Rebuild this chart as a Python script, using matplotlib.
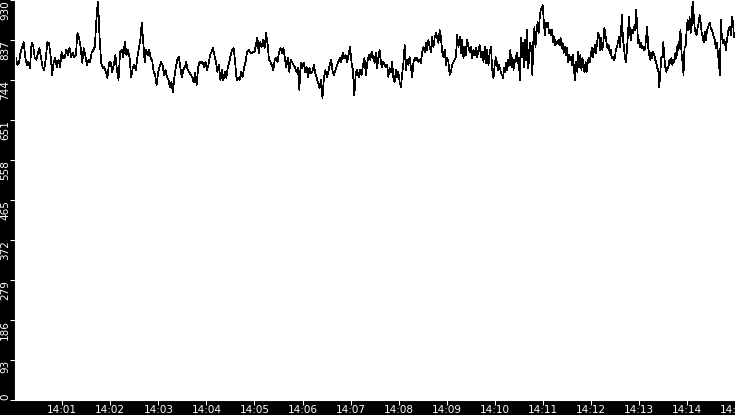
import numpy as np
import matplotlib
matplotlib.use("Agg")
from matplotlib import pyplot as plt
import matplotlib.dates as mdates
from datetime import datetime, timedelta

# readings, one list per 2.5 minute stretch starting at 14:00
seg1 = [786, 795, 779, 784, 807, 821, 832, 797, 779, 786, 772, 830, 825, 795, 791, 807, 818, 795, 774, 767,
        795, 832, 830, 802, 756, 786, 795, 774, 791, 774, 809, 795, 797, 814, 802, 818, 797, 807, 797, 802,
        853, 844, 821, 784, 818, 802, 779, 791, 786, 807, 814, 821, 884, 930, 844, 784, 772, 774, 763, 749,
        784, 786, 763, 779, 802, 767, 744, 809, 814, 797, 832, 802, 814, 795, 751, 772]
seg2 = [779, 767, 795, 818, 837, 877, 830, 786, 814, 802, 814, 795, 791, 763, 756, 732, 760, 774, 786, 779,
        756, 767, 751, 744, 728, 739, 716, 751, 774, 791, 797, 774, 751, 767, 774, 786, 767, 763, 756, 751,
        739, 760, 732, 772, 786, 784, 786, 774, 786, 767, 779, 802, 809, 818, 802, 786, 763, 779, 744, 767,
        744, 763, 749, 772, 786, 802, 814, 818, 784, 744, 749, 744, 763, 751, 772, 786, 809, 814, 809, 807, 809]
seg3 = [809, 825, 842, 807, 832, 821, 837, 818, 853, 830, 791, 786, 779, 767, 791, 795, 786, 809, 818, 807,
        818, 795, 774, 795, 763, 791, 786, 779, 774, 763, 772, 721, 784, 772, 784, 763, 774, 751, 772, 760,
        763, 779, 760, 749, 737, 725, 744, 702, 751, 767, 751, 763, 779, 791, 763, 756, 767, 779, 786, 795,
        786, 807, 795, 802, 786, 802, 821, 786, 767, 709, 760, 767, 751, 767, 756, 779, 795, 756, 786, 802,
        791, 809, 797]
seg4 = [784, 807, 772, 797, 814, 786, 774, 786, 779, 774, 779, 751, 772, 763, 786, 749, 739, 767, 751, 763,
        739, 728, 756, 784, 825, 767, 791, 779, 797, 774, 751, 784, 795, 791, 795, 786, 791, 784, 809, 821,
        809, 830, 814, 837, 821, 809, 844, 821, 842, 853, 842, 830, 860, 844, 809, 797, 814, 779, 795, 786,
        756, 763, 779, 786, 791, 797, 849, 821, 844, 807, 837, 795, 821, 802, 837, 821, 809, 821, 795, 814,
        802, 818, 797, 814, 825, 797, 809, 786, 821, 784, 814, 779, 807, 821, 767, 749]
seg5 = [779, 797, 786, 767, 779, 772, 760, 756, 749, 772, 763, 784, 767, 791, 779, 814, 774, 795, 767, 791,
        786, 807, 784, 795, 744, 842, 797, 830, 774, 837, 791, 860, 772, 795, 830, 814, 756, 837, 867, 821,
        853, 879, 853, 888, 907, 911, 918, 879, 849, 877, 867, 877, 853, 860, 849, 860, 832, 844, 825, 832,
        830, 837, 825, 842, 818, 830, 807, 821, 802, 818, 786, 802, 791, 797, 779, 802, 763, 744, 786, 763,
        809, 774, 802, 767, 795, 772, 763, 786, 763, 784, 795, 786, 802, 818, 797, 814, 825, 807, 832, 853,
        844, 814, 842, 814, 832, 865, 849, 830, 818, 825, 807, 814, 795, 797, 791]
seg6 = [795, 814, 821, 830, 844, 821, 853, 895, 837, 821, 795, 786, 814, 853, 890, 853, 837, 860, 853, 867,
        860, 907, 877, 830, 837, 821, 830, 818, 821, 814, 818, 842, 867, 821, 802, 791, 807, 795, 809, 802,
        791, 784, 772, 767, 728, 763, 795, 797, 832, 797, 774, 763, 774, 772, 791, 784, 795, 779, 791, 786,
        807, 795, 825, 814, 837, 860, 807, 786, 756, 821, 821, 856, 884, 860, 890, 853, 867, 930, 900, 867,
        853, 849, 867, 877, 895, 877, 853, 844, 832, 856, 837, 853, 865, 872, 877, 865, 860, 853, 844, 837,
        818, 830, 809, 784, 756, 884, 844, 830, 837, 832, 814, 837, 853, 865, 867, 849, 890, 879, 844]

yticks = [0, 93, 186, 279, 372, 465, 558, 651, 744, 837, 930]
ytick_labels = ["0", "93", "186", "279", "372", "465", "558", "651", "744", "837", "930"]
xtick_minutes = list(range(1, 16))

t0 = datetime(2024, 1, 1, 14, 0, 0)
seg_len = 150.0
times, values = [], []
for k, seg in enumerate([seg1, seg2, seg3, seg4, seg5, seg6]):
    n = len(seg)
    for i, v in enumerate(seg):
        times.append(t0 + timedelta(seconds=k * seg_len + i * seg_len / n))
        values.append(v)

fig = plt.figure(figsize=(7.35, 4.15), dpi=100, facecolor="black")
ax = fig.add_axes([15 / 735, 15 / 415, 720 / 735, 400 / 415])
ax.set_facecolor("white")
ax.plot(times, values, color="black", lw=0.5, antialiased=False)

ax.set_xlim(t0 + timedelta(seconds=1), t0 + timedelta(minutes=15))
ax.set_ylim(0, 930)

ax.set_xticks([t0 + timedelta(minutes=m) for m in xtick_minutes])
ax.xaxis.set_major_formatter(mdates.DateFormatter("%H:%M"))
ax.set_yticks(yticks)
ax.set_yticklabels(ytick_labels, rotation=90)
for lab in ax.get_yticklabels():
    lab.set_rotation_mode("anchor")
    lab.set_ha("right" if lab.get_text() != "0" else "left")
    lab.set_va("bottom")

ax.tick_params(colors="white", labelsize=7.5, length=3.6, width=0.72, pad=0)
for s in ax.spines.values():
    s.set_color("white")

fig.savefig("out.png", dpi=100, facecolor="black")
